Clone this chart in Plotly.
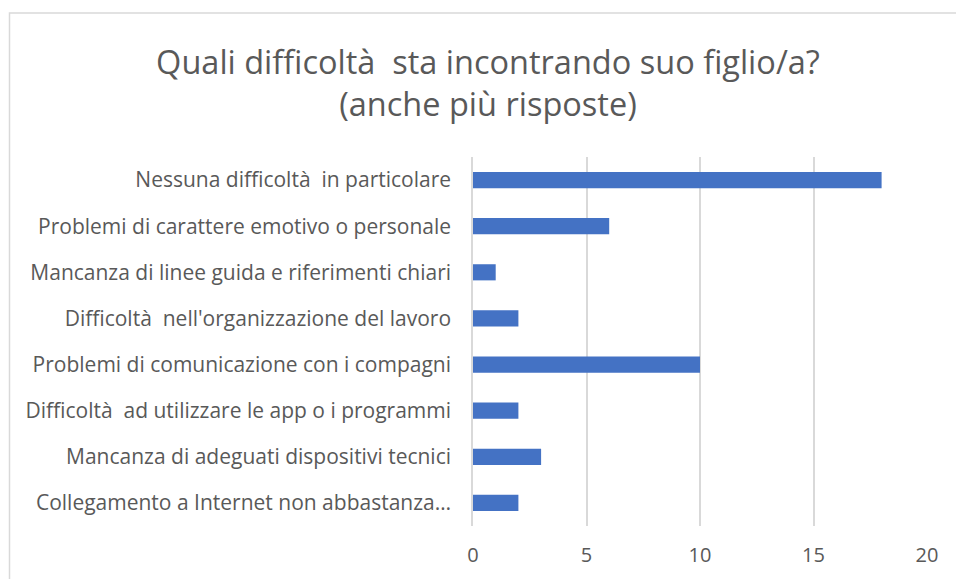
import plotly.graph_objects as go

categories = [
    "Nessuna difficoltà\u00a0 in particolare",
    "Problemi di carattere emotivo o personale",
    "Mancanza di linee guida e riferimenti chiari",
    "Difficoltà\u00a0 nell'organizzazione del lavoro",
    "Problemi di comunicazione con i compagni",
    "Difficoltà\u00a0 ad utilizzare le app o i programmi",
    "Mancanza di adeguati dispositivi tecnici",
    "Collegamento a Internet non abbastanza…",
]
values = [18, 6, 1, 2, 10, 2, 3, 2]
x_ticks = [0, 5, 10, 15, 20]
title_text = "Quali difficoltà\u00a0 sta incontrando suo figlio/a?<br>(anche più risposte)"

W, H = 956, 579
ML, MR, MT, MB = 473, 29, 157, 53

fig = go.Figure(go.Bar(
    x=values, y=categories, orientation="h",
    marker=dict(color="#4472C4", line=dict(width=0)),
))

pw = W - ML - MR
ph = H - MT - MB
fig.add_shape(type="rect", xref="paper", yref="paper",
              x0=(9.5 - ML) / pw, x1=(W + 5 - ML) / pw,
              y0=-(H + 5 - (H - MB)) / ph, y1=(H - MB - 13) / ph,
              line=dict(color="#d9d9d9", width=1.5), fillcolor="rgba(0,0,0,0)", layer="below")

fig.update_layout(
    width=W, height=H,
    margin=dict(l=ML, r=MR, t=MT, b=MB),
    paper_bgcolor="white", plot_bgcolor="white",
    bargap=0.65,
    showlegend=False,
    font=dict(family="Open Sans", color="#595959"),
    title=dict(text=title_text, x=488 / W, xanchor="center", xref="container",
               y=1 - 74 / H, yanchor="middle", yref="container",
               font=dict(family="Open Sans", size=32.5, color="#595959")),
    xaxis=dict(range=[0, 20], tickvals=x_ticks, showgrid=True, gridcolor="#d9d9d9",
               gridwidth=1.5, zeroline=False, showline=False,
               tickfont=dict(size=20, color="#595959"), ticklabelstandoff=15),
    yaxis=dict(categoryorder="array", categoryarray=categories[::-1],
               showgrid=False, showline=True, linecolor="#d9d9d9", linewidth=1.5,
               tickfont=dict(size=21, color="#595959"), ticklabelstandoff=16),
)

fig.write_html("out.html", config={"displayModeBar": False},
               post_script="document.body.style.margin='0';document.body.style.overflow='hidden';")
